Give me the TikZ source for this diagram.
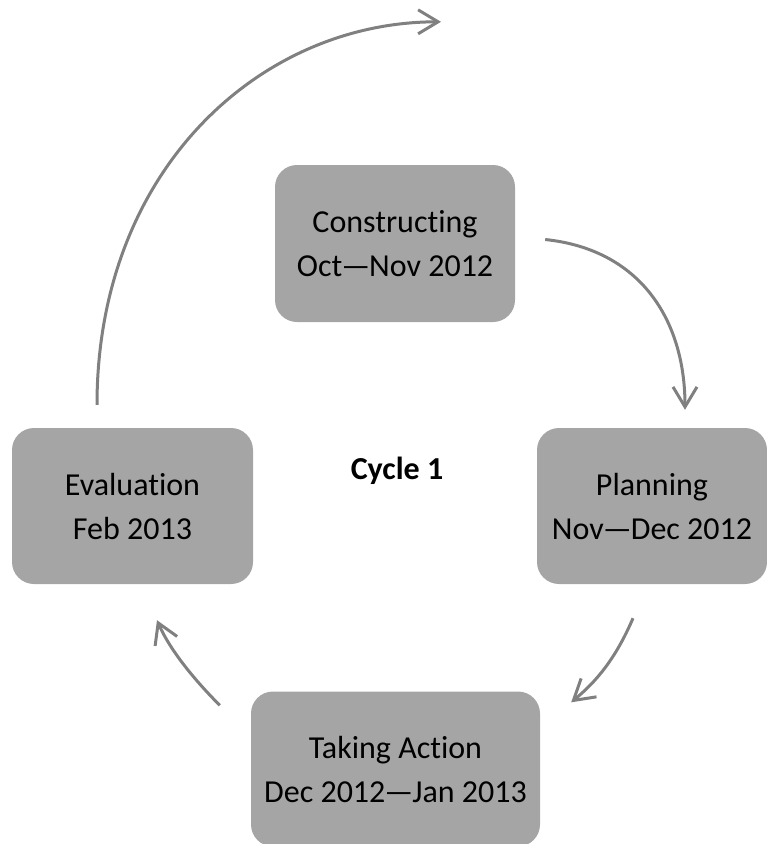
\documentclass[tikz,border=0pt]{standalone}
\usepackage{fontspec}
\setmainfont{Carlito}[Ligatures={NoCommon}]
\usepackage{tikz}
\usetikzlibrary{positioning,arrows.meta}

\definecolor{stagegray}{HTML}{A5A5A5}
\definecolor{arrowgray}{HTML}{808080}

\tikzset{
  stagebox/.style={fill=stagegray, rounded corners=22pt, align=center,
    font=\fontsize{32}{46}\selectfont, inner sep=0pt},
  cyclearrow/.style={draw=arrowgray, line width=3pt,
    -{Straight Barb[length=20pt,width=24pt,line width=3pt]}}
}

\begin{document}
\begin{tikzpicture}[x=1pt,y=-1pt]
  \useasboundingbox (0,0) rectangle (767,844);

  % Stages
  \node[stagebox, minimum width=240pt, minimum height=157pt] (constructing) at (395,243.5) {Constructing\\[-2pt]Oct\kern-1pt---\kern-1ptNov 2012};
  \node[stagebox, minimum width=230pt, minimum height=156pt] (planning) at (652,506) {Planning\\[-2pt]Nov\kern-1pt---\kern-1ptDec 2012};
  \node[stagebox, minimum width=289pt, minimum height=155pt] (action) at (395.5,769) {Taking Action\\[-2pt]Dec 2012\kern-1pt---\kern-1ptJan 2013};
  \node[stagebox, minimum width=241pt, minimum height=156pt] (evaluation) at (132.5,506) {Evaluation\\[-2pt]Feb 2013};

  % Centre label
  \node[font=\fontsize{32}{38}\selectfont\bfseries] (cycle) at (397,471) {Cycle 1};

  % Arrows between stages
  \draw[cyclearrow] ([shift={(30,-4)}]constructing.east) .. controls +(95,10) and +(0,-90) .. ([shift={(33,-18)}]planning.north);
  \draw[cyclearrow] ([shift={(-19,34)}]planning.south) .. controls +(-18,42) and +(24,-20) .. ([shift={(31,11)}]action.north east);
  \draw[cyclearrow] ([shift={(-31,14)}]action.north west) .. controls +(-25,-25) and +(13,30) .. ([shift={(24.5,36)}]evaluation.south);

  % Arrow on to the next cycle
  \draw[cyclearrow] ([shift={(-35.5,-23)}]evaluation.north) .. controls +(0,-235) and +(-181,0) .. ([shift={(46,-143)}]constructing.north);
\end{tikzpicture}
\end{document}
